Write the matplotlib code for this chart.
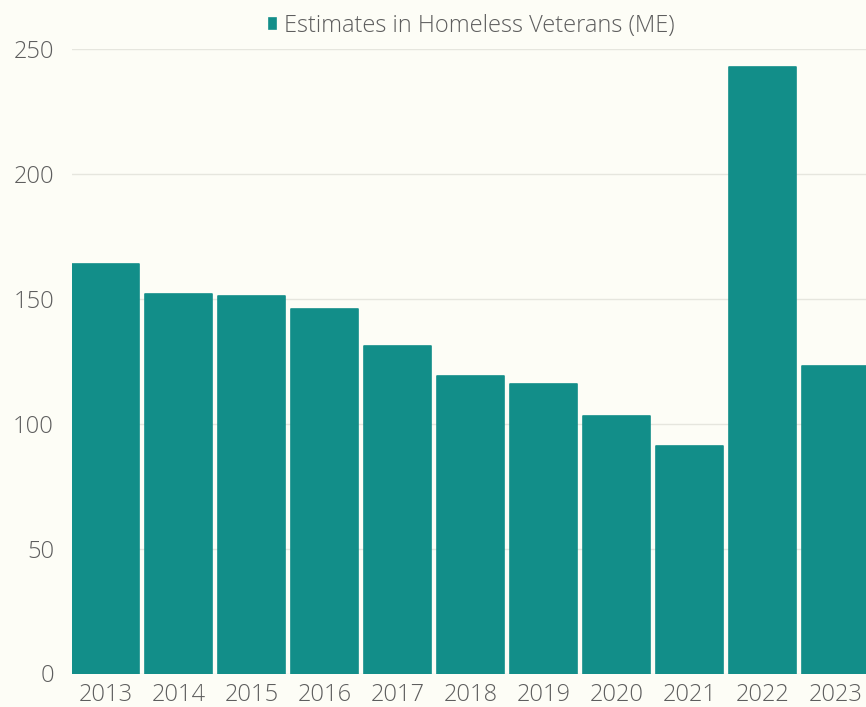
import matplotlib.pyplot as plt

years = ["2013", "2014", "2015", "2016", "2017", "2018", "2019", "2020", "2021", "2022", "2023"]
homeless_veterans = [164, 152, 151, 146, 131, 119, 116, 103, 91, 243, 123]
y_ticks = [0, 50, 100, 150, 200, 250]

bar_color = "#128E89"
bg_color = "#FDFDF6"
text_color = "#5E5E5E"

plt.rcParams['font.family'] = ['Open Sans', 'DejaVu Sans']

fig = plt.figure(figsize=(8.66, 7.07), dpi=100, facecolor=bg_color)
# axes runs a little past the right edge, like the original (last bar clipped)
ax = fig.add_axes([72 / 866, 33.5 / 707, 803 / 866, 624.2 / 707], facecolor=bg_color)

x = list(range(len(years)))
bars = ax.bar(x, homeless_veterans, width=0.918, color=bar_color,
              edgecolor=bar_color, linewidth=1.2, joinstyle='round',
              label="Estimates in Homeless Veterans (ME)", zorder=2)

ax.set_xlim(-0.459, 10.541)
ax.set_ylim(0, 250)
ax.set_yticks(y_ticks)
ax.set_xticks(x)
ax.set_xticklabels(years)
ax.grid(axis='y', color="#E6E6DE", linewidth=1, zorder=0)
for s in ax.spines.values():
    s.set_visible(False)
ax.tick_params(axis='both', length=0, labelsize=17, labelcolor=text_color)
ax.tick_params(axis='y', pad=13)
ax.tick_params(axis='x', pad=7)
for lbl in ax.get_xticklabels() + ax.get_yticklabels():
    lbl.set_fontweight('light')

leg = fig.legend(loc='center', bbox_to_anchor=(472 / 866, 1 - 26 / 707), frameon=False,
                 handlelength=0.28, handleheight=0.28, handletextpad=0.35,
                 prop={'size': 17, 'weight': 'light'})
for t in leg.get_texts():
    t.set_color(text_color)

fig.savefig("out.png", dpi=100, facecolor=bg_color)
